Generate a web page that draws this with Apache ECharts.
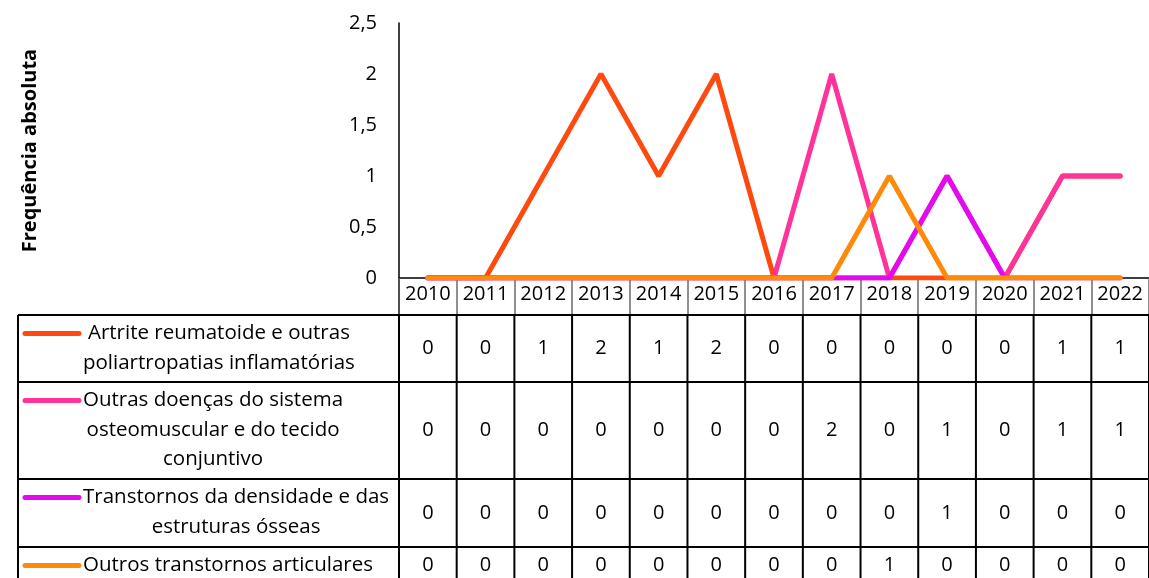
<!DOCTYPE html>
<html>
<head>
<meta charset="utf-8">
<script src="https://cdn.jsdelivr.net/npm/echarts@6/dist/echarts.min.js"></script>
<style>
  html, body { margin: 0; padding: 0; background: #fff; }
  #main { width: 1149px; height: 578px; }
</style>
</head>
<body>
<div id="main"></div>
<script>
var years = ['2010','2011','2012','2013','2014','2015','2016','2017','2018','2019','2020','2021','2022'];
var artrite = [0,0,1,2,1,2,0,0,0,0,0,1,1];
var outrasDoencas = [0,0,0,0,0,0,0,2,0,1,0,1,1];
var densidade = [0,0,0,0,0,0,0,0,0,1,0,0,0];
var articulares = [0,0,0,0,0,0,0,0,1,0,0,0,0];
var yTicks = [0, 0.5, 1, 1.5, 2, 2.5];

var seriesNames = [
  'Artrite reumatoide e outras poliartropatias inflamatórias',
  'Outras doenças do sistema osteomuscular e do tecido conjuntivo',
  'Transtornos da densidade e das estruturas ósseas',
  'Outros transtornos articulares'
];
// quebras de linha como no original
var nameLines = [
  ['Artrite reumatoide e outras', 'poliartropatias inflamatórias'],
  ['Outras doenças do sistema', 'osteomuscular e do tecido', 'conjuntivo'],
  ['Transtornos da densidade e das', 'estruturas ósseas'],
  ['Outros transtornos articulares']
];
var seriesData = [artrite, outrasDoencas, densidade, articulares];
var colors = ['#FF4A0F', '#FF3399', '#E30AF0', '#FF8A0A'];

var FONT = '"Open Sans", sans-serif';
var GRID_TOP = 23, GRID_BOTTOM_Y = 278;
var HEADER_BOTTOM = 315;
var rowBounds = [315, 382, 479, 547, 600];
var TABLE_LEFT = 18, AXIS_X = 399;

var chart = echarts.init(document.getElementById('main'));

var option = {
  animation: false,
  color: colors,
  grid: { left: AXIS_X, top: GRID_TOP, right: -7, bottom: 578 - GRID_BOTTOM_Y, containLabel: false },
  xAxis: {
    type: 'category',
    data: years,
    boundaryGap: true,
    axisLine: { lineStyle: { color: '#000', width: 1.5 } },
    axisTick: { show: true, length: 36, lineStyle: { color: '#6b6b6b', width: 1.5 } },
    axisLabel: { color: '#000', fontSize: 20, fontFamily: FONT, margin: 6, interval: 0 }
  },
  yAxis: {
    type: 'value',
    min: yTicks[0], max: yTicks[yTicks.length - 1], interval: 0.5,
    name: 'Frequência absoluta',
    nameLocation: 'middle',
    nameRotate: 90,
    nameGap: 359,
    nameTextStyle: { fontSize: 20, fontWeight: 'bold', fontFamily: FONT, color: '#000' },
    axisLine: { show: true, lineStyle: { color: '#000', width: 1.5 } },
    axisTick: { show: false },
    splitLine: { show: false },
    axisLabel: {
      color: '#000', fontSize: 20, fontFamily: FONT, margin: 22,
      formatter: function (v) { return String(v).replace('.', ','); }
    }
  },
  series: seriesData.map(function (d, i) {
    return {
      name: seriesNames[i],
      type: 'line',
      data: d,
      symbol: 'none',
      lineStyle: { width: 5, color: colors[i], cap: 'round' }
    };
  })
};
chart.setOption(option);

// tabela de dados desenhada a partir do eixo x
function buildTable() {
  var c0 = chart.convertToPixel({ xAxisIndex: 0 }, 0);
  var c1 = chart.convertToPixel({ xAxisIndex: 0 }, 1);
  var bw = c1 - c0;
  var els = [];
  var legendFont = '20.5px ' + FONT;
  var ctx = document.createElement('canvas').getContext('2d');
  ctx.font = legendFont;

  // linhas horizontais
  rowBounds.slice(0, 4).forEach(function (y) {
    els.push({ type: 'line', shape: { x1: TABLE_LEFT, y1: y, x2: 1149, y2: y }, style: { stroke: '#000', lineWidth: 2 } });
  });
  // borda esquerda e eixo
  els.push({ type: 'line', shape: { x1: TABLE_LEFT, y1: HEADER_BOTTOM, x2: TABLE_LEFT, y2: 578 }, style: { stroke: '#000', lineWidth: 2 } });
  els.push({ type: 'line', shape: { x1: AXIS_X, y1: GRID_BOTTOM_Y, x2: AXIS_X, y2: 578 }, style: { stroke: '#000', lineWidth: 2 } });
  // linhas verticais do corpo
  years.forEach(function (yr, j) {
    var cx = chart.convertToPixel({ xAxisIndex: 0 }, j);
    var xr = cx + bw / 2;
    els.push({ type: 'line', shape: { x1: xr, y1: HEADER_BOTTOM, x2: xr, y2: 578 }, style: { stroke: '#000', lineWidth: 2 } });
  });

  seriesData.forEach(function (d, i) {
    var top = rowBounds[i], bot = rowBounds[i + 1];
    var mid = i === 3 ? 565 : (top + bot) / 2;
    // valores
    d.forEach(function (v, j) {
      var cx = chart.convertToPixel({ xAxisIndex: 0 }, j);
      els.push({ type: 'text', x: cx, y: mid, style: { text: String(v), fill: '#000', font: '20px ' + FONT, align: 'center', verticalAlign: 'middle' } });
    });
    // legenda
    var firstY = top + 18.5;
    els.push({ type: 'line', shape: { x1: 25, y1: firstY, x2: 79, y2: firstY }, style: { stroke: colors[i], lineWidth: 5, lineCap: 'round' } });
    var lines = nameLines[i];
    var w = 0;
    lines.forEach(function (t) { w = Math.max(w, ctx.measureText(t).width); });
    var cxText = 83 + w / 2;
    lines.forEach(function (t, k) {
      els.push({ type: 'text', x: cxText, y: firstY + k * 29.3, style: { text: t, fill: '#000', font: legendFont, align: 'center', verticalAlign: 'middle' } });
    });
  });
  chart.setOption({ graphic: { elements: els } });
}
buildTable();
</script>
</body>
</html>
